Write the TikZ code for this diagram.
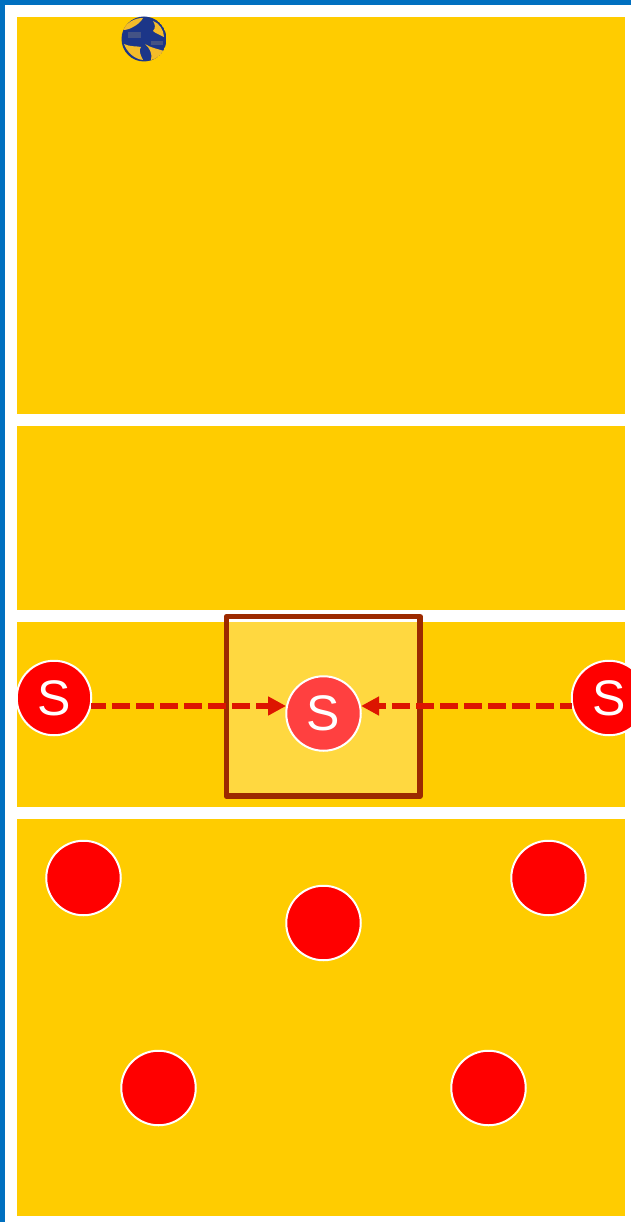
\documentclass[tikz,border=0pt]{standalone}
\usepackage{fontspec}
\setmainfont{Liberation Sans}
\usetikzlibrary{arrows.meta}
\definecolor{courtyellow}{HTML}{FFCC00}
\definecolor{edgeblue}{HTML}{0070C0}
\definecolor{boxbrown}{HTML}{9C2A00}
\definecolor{arrowred}{HTML}{DD1500}
\definecolor{ballnavy}{HTML}{1C3688}
\definecolor{ballyellow}{HTML}{F4BC2A}
\tikzset{
  court/.style={fill=courtyellow,draw=none},
  player/.style={circle,fill=red,draw=white,line width=2pt,minimum size=74.5pt,inner sep=0pt,text=white,font=\fontsize{50}{50}\selectfont},
  faded/.style={player,fill=red!75!white},
  moveline/.style={draw=arrowred,line width=6pt,dash pattern=on 17.5pt off 6.5pt,-{Triangle[length=18pt,width=18pt]}},
  blade/.style={fill=ballyellow,draw=none}
}
\begin{document}
\begin{tikzpicture}[x=1pt,y=-1pt]
\useasboundingbox (0,0) rectangle (631,1222);
\clip (0,0) rectangle (631,1222);
\fill[white] (0,0) rectangle (631,1222);
\fill[edgeblue] (0,0) rectangle (631,5);
\fill[edgeblue] (0,0) rectangle (5,1222);
\path[court] (17,17) rectangle (625,414);
\path[court] (17,426) rectangle (625,610);
\path[court] (17,622) rectangle (625,807);
\path[court] (17,819) rectangle (625,1216);
% ball
\begin{scope}[shift={(144,39)}]
  \clip (0,0) circle (22.5);
  \fill[ballnavy] (0,0) circle (22.5);
  \path[blade] (-21,-9) .. controls (-17,-17) and (-9,-21) .. (-1,-21)
    .. controls (-3,-17) and (-7,-14) .. (-11,-12)
    .. controls (-14,-10) and (-18,-9) .. (-21,-9) -- cycle;
  \path[blade] (9,-18) .. controls (15,-16) and (20,-9) .. (20,-2)
    .. controls (16,-4) and (11,-6) .. (9,-8)
    .. controls (12,-11) and (11,-15) .. (9,-18) -- cycle;
  \path[blade] (1,5) .. controls (7,9) and (14,10) .. (20,12)
    .. controls (17,17) and (12,20) .. (7,21)
    .. controls (9,15) and (5,8) .. (1,5) -- cycle;
  \path[blade] (-20,5) .. controls (-14,8) and (-7,7) .. (-3,8)
    .. controls (-6,11) and (-3,17) .. (-1,21)
    .. controls (-10,20) and (-17,13) .. (-20,5) -- cycle;
  \fill[gray!40!ballnavy] (-16,-7) rectangle (-3,-1);
  \fill[gray!40!ballnavy] (7,2) rectangle (19,6);
\end{scope}
% serving zone
\draw[boxbrown,line width=5.5pt,line join=round,fill=white,fill opacity=.25] (226.3,616.7) rectangle (420.2,796.2);
% players
\node[player] (sl) at (54,698) {\raisebox{-1pt}{S}};
\node[player] (sr) at (609,698) {\raisebox{-1pt}{S}};
\node[faded] (sc) at (323.5,713.5) {\raisebox{-1pt}{S}};
\node[player] (p1) at (83.5,878) {};
\node[player] (p2) at (323.5,923) {};
\node[player] (p3) at (548.5,878) {};
\node[player] (p4) at (158.5,1088) {};
\node[player] (p5) at (488.5,1088) {};
% movement
\coordinate (lane) at (0,706);
\path[moveline,dash phase=3pt] (sl.-12.07 |- lane) -- (sc.168.7 |- lane);
\path[moveline,dash phase=6pt] (sr.192.07 |- lane) -- (sc.11.3 |- lane);
\end{tikzpicture}
\end{document}
